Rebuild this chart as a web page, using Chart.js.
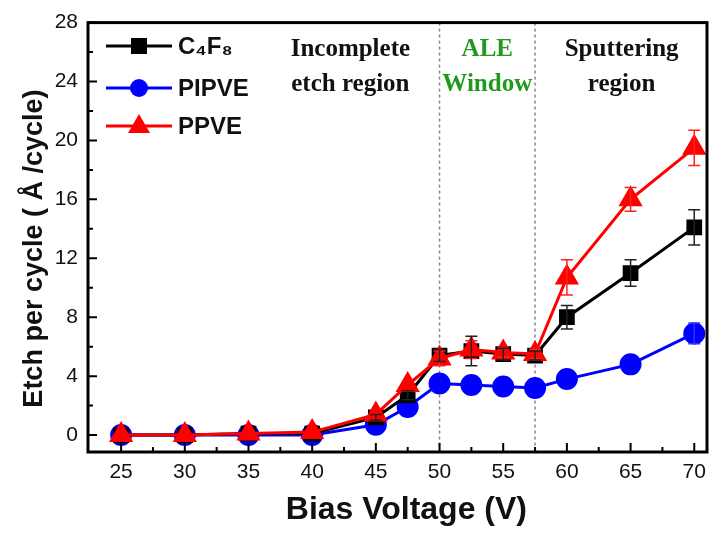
<!DOCTYPE html>
<html>
<head>
<meta charset="utf-8">
<script src="https://cdn.jsdelivr.net/npm/chart.js@4.4.0/dist/chart.umd.min.js"></script>
<style>
  html, body { margin: 0; padding: 0; background: #fff; }
  #wrap { width: 721px; height: 533px; }
</style>
</head>
<body>
<div id="wrap"><canvas id="etchChart" width="721" height="533"></canvas></div>
<script>
// Bias voltage (V)
const voltages = [25, 30, 35, 40, 45, 47.5, 50, 52.5, 55, 57.5, 60, 65, 70];
const xTickValues = [25, 30, 35, 40, 45, 50, 55, 60, 65, 70];
const yTickValues = [0, 4, 8, 12, 16, 20, 24, 28];

// Etch per cycle (A/cycle)
const c4f8Values  = [0, 0, 0.1, 0.1, 1.2, 2.7, 5.4, 5.7, 5.5, 5.4, 8.0, 11.0, 14.1];
const c4f8Errors  = [0, 0, 0, 0, 0.2, 0.3, 0.4, 1.0, 0.4, 0.3, 0.8, 0.9, 1.2];
const pipveValues = [0, 0, 0, 0, 0.7, 1.9, 3.5, 3.4, 3.3, 3.2, 3.8, 4.8, 6.9];
const pipveErrors = [0, 0, 0, 0, 0, 0, 0, 0, 0, 0, 0, 0, 0.7];
const ppveValues  = [0, 0, 0.1, 0.2, 1.4, 3.4, 5.2, 5.8, 5.6, 5.5, 10.7, 16.0, 19.5];
const ppveErrors  = [0, 0, 0, 0, 0, 0, 0.5, 0.6, 0.3, 0.3, 1.2, 0.8, 1.2];

const regionLines = [50, 57.5];
const regionLabels = [
    { x: 43.0, lines: ['Incomplete', 'etch region'], color: '#111111' },
    { x: 53.75, lines: ['ALE', 'Window'], color: '#1f9a1f' },
    { x: 64.3, lines: ['Sputtering', 'region'], color: '#111111' }
];

const toPoints = (vals) => vals.map((v, i) => ({ x: voltages[i], y: v }));

// inward ticks, frame, dashed region lines, error bars, legend, region labels
const decorPlugin = {
    id: 'decor',
    beforeDatasetsDraw(chart) {
        const { ctx, chartArea: a, scales: { x } } = chart;
        ctx.save();
        ctx.strokeStyle = '#888';
        ctx.lineWidth = 1.5;
        ctx.setLineDash([3, 3]);
        regionLines.forEach(v => {
            const px = x.getPixelForValue(v);
            ctx.beginPath();
            ctx.moveTo(px, a.top);
            ctx.lineTo(px, a.bottom);
            ctx.stroke();
        });
        ctx.restore();
    },
    afterDatasetsDraw(chart) {
        const { ctx, chartArea: a, scales: { x, y } } = chart;
        ctx.save();

        // error bars
        chart.data.datasets.forEach(ds => {
            ctx.strokeStyle = ds.errColor;
            ctx.lineWidth = 1.5;
            ds.data.forEach((p, i) => {
                const e = ds.errors[i];
                if (!e) return;
                const px = x.getPixelForValue(p.x);
                const top = y.getPixelForValue(p.y + e);
                const bot = y.getPixelForValue(p.y - e);
                ctx.beginPath();
                ctx.moveTo(px, top); ctx.lineTo(px, bot);
                ctx.moveTo(px - 6, top); ctx.lineTo(px + 6, top);
                ctx.moveTo(px - 6, bot); ctx.lineTo(px + 6, bot);
                ctx.stroke();
            });
        });

        // frame
        ctx.strokeStyle = '#000';
        ctx.lineWidth = 3;
        ctx.strokeRect(a.left, a.top, a.right - a.left, a.bottom - a.top);

        // inward ticks
        ctx.lineWidth = 2;
        ctx.beginPath();
        for (let v = 25; v <= 70; v += 2.5) {
            const px = x.getPixelForValue(v);
            const len = (v % 5 === 0) ? 9 : 5;
            ctx.moveTo(px, a.bottom);
            ctx.lineTo(px, a.bottom - len);
        }
        for (let v = 0; v <= 28; v += 2) {
            const py = y.getPixelForValue(v);
            const len = (v % 4 === 0) ? 9 : 5;
            ctx.moveTo(a.left, py);
            ctx.lineTo(a.left + len, py);
        }
        ctx.stroke();

        // region labels
        ctx.font = 'bold 25px "Liberation Serif", "DejaVu Serif", serif';
        ctx.textAlign = 'center';
        ctx.textBaseline = 'middle';
        regionLabels.forEach(r => {
            ctx.fillStyle = r.color;
            const px = x.getPixelForValue(r.x);
            ctx.fillText(r.lines[0], px, 50);
            ctx.fillText(r.lines[1], px, 85);
        });

        // legend: C4F8, PIPVE, PPVE
        const order = [1, 2, 0];
        const rows = [46, 88, 126];
        ctx.font = 'bold 24px "Liberation Sans", Arial, sans-serif';
        ctx.textAlign = 'left';
        order.forEach((di, k) => {
            const ds = chart.data.datasets[di];
            const yy = rows[k];
            ctx.strokeStyle = ds.borderColor;
            ctx.lineWidth = 3;
            ctx.setLineDash([]);
            ctx.beginPath();
            ctx.moveTo(106, yy); ctx.lineTo(172, yy);
            ctx.stroke();
            ctx.fillStyle = ds.borderColor;
            const cx = 139;
            if (ds.pointStyle === 'circle') {
                ctx.beginPath(); ctx.arc(cx, yy, 9, 0, Math.PI * 2); ctx.fill();
            } else if (ds.pointStyle === 'triangle') {
                ctx.beginPath();
                ctx.moveTo(cx, yy - 12); ctx.lineTo(cx + 11, yy + 7); ctx.lineTo(cx - 11, yy + 7);
                ctx.closePath(); ctx.fill();
            } else {
                ctx.fillRect(cx - 8, yy - 8, 16, 16);
            }
            ctx.fillStyle = '#111';
            ctx.fillText(ds.label, 178, yy + 1);
        });

        ctx.restore();
    }
};

new Chart(document.getElementById('etchChart'), {
    type: 'line',
    data: {
        datasets: [
            {
                label: 'PPVE',
                data: toPoints(ppveValues),
                errors: ppveErrors,
                errColor: '#ff2020',
                borderColor: '#ff0000',
                backgroundColor: '#ff0000',
                pointStyle: 'triangle',
                pointRadius: 11,
                borderWidth: 3,
                order: 0
            },
            {
                label: 'C\u2084F\u2088',
                data: toPoints(c4f8Values),
                errors: c4f8Errors,
                errColor: '#222',
                borderColor: '#000000',
                backgroundColor: '#000000',
                pointStyle: 'rect',
                pointRadius: 9,
                borderWidth: 3,
                order: 1
            },
            {
                label: 'PIPVE',
                data: toPoints(pipveValues),
                errors: pipveErrors,
                errColor: '#3030ff',
                borderColor: '#0000ff',
                backgroundColor: '#0000ff',
                pointStyle: 'circle',
                pointRadius: 9.5,
                borderWidth: 3,
                order: 2
            }
        ]
    },
    options: {
        responsive: false,
        animation: false,
        layout: { padding: { top: 18, right: 11, left: 14, bottom: 0 } },
        plugins: {
            legend: { display: false },
            tooltip: { enabled: false }
        },
        scales: {
            x: {
                type: 'linear',
                min: 22.4,
                max: 71,
                afterBuildTicks: (s) => { s.ticks = xTickValues.map(v => ({ value: v })); },
                afterFit: (s) => { s.height = 81; },
                grid: { display: false, drawTicks: false },
                border: { display: false },
                ticks: {
                    color: '#111',
                    padding: 8,
                    maxRotation: 0,
                    font: { family: '"Liberation Sans", Arial, sans-serif', size: 21 }
                },
                title: {
                    display: true,
                    text: '\u00a0\u00a0Bias Voltage (V)',
                    color: '#111',
                    padding: { top: 8 },
                    font: { family: '"Liberation Sans", Arial, sans-serif', size: 32, weight: 'bold' }
                }
            },
            y: {
                type: 'linear',
                min: -1.15,
                max: 28,
                afterBuildTicks: (s) => { s.ticks = yTickValues.map(v => ({ value: v })); },
                afterFit: (s) => { s.width = 74; },
                grid: { display: false, drawTicks: false },
                border: { display: false },
                ticks: {
                    color: '#111',
                    padding: 10,
                    font: { family: '"Liberation Sans", Arial, sans-serif', size: 21 }
                },
                title: {
                    display: true,
                    text: 'Etch per cycle ( \u00C5 /cycle)\u00a0\u00a0\u00a0',
                    color: '#111',
                    padding: { bottom: 0 },
                    font: { family: '"Liberation Sans Narrow", "Liberation Sans", Arial, sans-serif', size: 27, weight: 'bold' }
                }
            }
        }
    },
    plugins: [decorPlugin]
});
</script>
</body>
</html>
